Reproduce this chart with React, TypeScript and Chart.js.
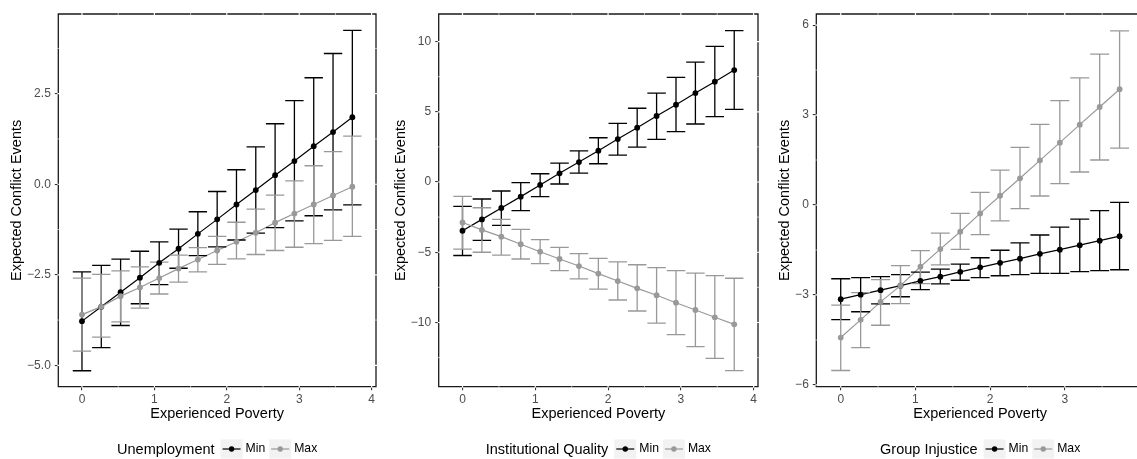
import React, { useEffect, useRef } from "react";
import { Chart, registerables } from "chart.js";

Chart.register(...registerables);

// ---------- data ----------
const xValues = [0, 0.2667, 0.5333, 0.8, 1.0667, 1.3333, 1.6, 1.8667, 2.1333, 2.4, 2.6667, 2.9333, 3.2, 3.4667, 3.7333];
const xTicks = [0, 1, 2, 3, 4];
const xTicksCropped = [0, 1, 2, 3];
const xMinor = [0.5, 1.5, 2.5, 3.5];
const seriesNames = ["Min", "Max"];

// Panel 1: Unemployment
const unempMin = [-3.78, -3.38, -2.98, -2.58, -2.17, -1.78, -1.37, -0.97, -0.56, -0.16, 0.25, 0.64, 1.05, 1.44, 1.85];
const unempMinLo = [-5.15, -4.51, -3.9, -3.3, -2.77, -2.32, -1.97, -1.73, -1.54, -1.35, -1.2, -1.01, -0.87, -0.71, -0.57];
const unempMinHi = [-2.42, -2.24, -2.07, -1.85, -1.59, -1.24, -0.76, -0.2, 0.4, 1.03, 1.67, 2.31, 2.94, 3.61, 4.25];
const unempMax = [-3.6, -3.38, -3.09, -2.85, -2.59, -2.33, -2.08, -1.83, -1.59, -1.34, -1.06, -0.81, -0.56, -0.31, -0.07];
const unempMaxLo = [-4.61, -4.22, -3.8, -3.42, -3.03, -2.7, -2.42, -2.21, -2.06, -1.94, -1.83, -1.74, -1.64, -1.55, -1.44];
const unempMaxHi = [-2.59, -2.49, -2.39, -2.28, -2.15, -1.96, -1.75, -1.44, -1.05, -0.69, -0.3, 0.09, 0.51, 0.9, 1.33];
const unempYTicks = [-5, -2.5, 0, 2.5];
const unempYMinor = [-3.75, -1.25, 1.25, 3.75];

// Panel 2: Institutional Quality
const instMin = [-3.47, -2.66, -1.85, -1.04, -0.21, 0.62, 1.42, 2.23, 3.06, 3.87, 4.7, 5.5, 6.33, 7.14, 7.97];
const instMinLo = [-5.23, -4.15, -3.08, -2.04, -1.04, -0.14, 0.64, 1.3, 1.92, 2.49, 3.04, 3.58, 4.13, 4.65, 5.17];
const instMinHi = [-1.73, -1.21, -0.64, -0.05, 0.59, 1.35, 2.21, 3.15, 4.18, 5.25, 6.33, 7.45, 8.54, 9.66, 10.77];
const instMax = [-2.88, -3.41, -3.89, -4.43, -4.96, -5.48, -5.98, -6.52, -7.05, -7.57, -8.06, -8.59, -9.11, -9.63, -10.13];
const instMaxLo = [-4.78, -5.0, -5.2, -5.48, -5.81, -6.31, -6.9, -7.62, -8.4, -9.18, -10.04, -10.87, -11.72, -12.55, -13.43];
const instMaxHi = [-1.02, -1.83, -2.66, -3.37, -4.1, -4.65, -5.1, -5.43, -5.69, -5.89, -6.1, -6.31, -6.48, -6.67, -6.85];
const instYTicks = [-10, -5, 0, 5, 10];
const instYMinor = [-12.5, -7.5, -2.5, 2.5, 7.5];

// Panel 3: Group Injustice
const injMin = [-3.14, -2.99, -2.84, -2.69, -2.53, -2.39, -2.23, -2.08, -1.93, -1.79, -1.63, -1.49, -1.34, -1.19, -1.04];
const injMinLo = [-3.82, -3.56, -3.3, -3.06, -2.82, -2.63, -2.51, -2.42, -2.36, -2.32, -2.28, -2.28, -2.22, -2.19, -2.16];
const injMinHi = [-2.46, -2.42, -2.39, -2.32, -2.24, -2.14, -1.97, -1.76, -1.51, -1.26, -1.0, -0.74, -0.47, -0.19, 0.09];
const injMax = [-4.42, -3.83, -3.23, -2.69, -2.06, -1.47, -0.89, -0.28, 0.31, 0.89, 1.49, 2.08, 2.68, 3.27, 3.86];
const injMaxLo = [-5.52, -4.76, -4.01, -3.29, -2.62, -2.0, -1.48, -0.99, -0.53, -0.12, 0.3, 0.71, 1.1, 1.5, 1.9];
const injMaxHi = [-3.34, -2.92, -2.49, -2.02, -1.52, -0.94, -0.28, 0.42, 1.16, 1.92, 2.69, 3.48, 4.24, 5.03, 5.81];
const injYTicks = [-6, -3, 0, 3, 6];
const injYMinor = [-4.5, -1.5, 1.5, 4.5];

// ---------- styling ----------
const FONT = "'Liberation Sans', Arial, Helvetica, sans-serif";
const BLACK = "#000000";
const GREY = "#999999";
const CAP = 0.127;
const TITLE_SIZE = 14.5;
const TICK_SIZE = 12;
const LABEL_SIZE = 12.2;

const fmtMinus = (s: string) => s.replace("-", "\u2212");

const panelPlugin = {
  id: "panelDeco",
  beforeDatasetsDraw(chart: any, _args: any, opts: any) {
    const { ctx, chartArea } = chart;
    const { left, right, top, bottom } = chartArea;
    const xs = chart.scales.x;
    const ys = chart.scales.y;
    ctx.save();
    ctx.strokeStyle = "#1a1a1a";
    ctx.lineWidth = 1.3;
    ctx.beginPath();
    ctx.moveTo(left, top);
    ctx.lineTo(right, top);
    ctx.lineTo(right, bottom);
    ctx.lineTo(left, bottom);
    ctx.closePath();
    ctx.stroke();
    ctx.strokeStyle = "#ffffff";
    const vline = (v: number, w: number) => {
      const p = xs.getPixelForValue(v);
      if (p < left || p > right) return;
      ctx.lineWidth = w;
      ctx.beginPath();
      ctx.moveTo(p, top - 1);
      ctx.lineTo(p, bottom + 1);
      ctx.stroke();
    };
    const hline = (v: number, w: number) => {
      const p = ys.getPixelForValue(v);
      if (p < top || p > bottom) return;
      ctx.lineWidth = w;
      ctx.beginPath();
      ctx.moveTo(left - 1, p);
      ctx.lineTo(right + 1, p);
      ctx.stroke();
    };
    (opts.xMinor || []).forEach((v: number) => vline(v, 0.6));
    (opts.yMinor || []).forEach((v: number) => hline(v, 0.6));
    (opts.xMajor || []).forEach((v: number) => vline(v, 1.2));
    (opts.yMajor || []).forEach((v: number) => hline(v, 1.2));
    ctx.restore();
  },
  afterDatasetDraw(chart: any, args: any, opts: any) {
    if (args.index !== 1) return;
    const { ctx } = chart;
    const xs = chart.scales.x;
    const ys = chart.scales.y;
    ctx.save();
    ctx.lineWidth = 1.3;
    (opts.bars || []).forEach((b: any) => {
      ctx.strokeStyle = b.color;
      b.x.forEach((xv: number, i: number) => {
        const px = xs.getPixelForValue(xv);
        const pl = xs.getPixelForValue(xv - CAP);
        const pr = xs.getPixelForValue(xv + CAP);
        const lo = ys.getPixelForValue(b.lo[i]);
        const hi = ys.getPixelForValue(b.hi[i]);
        ctx.beginPath();
        ctx.moveTo(px, lo);
        ctx.lineTo(px, hi);
        ctx.moveTo(pl, lo);
        ctx.lineTo(pr, lo);
        ctx.moveTo(pl, hi);
        ctx.lineTo(pr, hi);
        ctx.stroke();
      });
    });
    ctx.restore();
  },
  afterDraw(chart: any, _args: any, opts: any) {
    const { ctx, chartArea } = chart;
    const { left, right, top, bottom } = chartArea;
    const cx = (left + right) / 2;
    ctx.save();
    // y title
    ctx.fillStyle = "#000";
    ctx.font = `${TITLE_SIZE}px ${FONT}`;
    ctx.textAlign = "center";
    ctx.textBaseline = "middle";
    ctx.save();
    ctx.translate(opts.yTitleX, (top + bottom) / 2);
    ctx.rotate(-Math.PI / 2);
    ctx.fillText(opts.yTitle, 0, 0);
    ctx.restore();
    // x title
    ctx.fillText(opts.xTitle, cx, 414);
    // legend
    ctx.font = `${TITLE_SIZE}px ${FONT}`;
    const tw = ctx.measureText(opts.legendTitle).width;
    ctx.font = `${LABEL_SIZE}px ${FONT}`;
    const lw = opts.legendLabels.map((l: string) => ctx.measureText(l).width);
    const boxW = 22, boxH = 19;
    const total = tw + 6 + boxW + 3 + lw[0] + 4 + boxW + 3 + lw[1];
    let x = cx - total / 2;
    const yc = 449;
    ctx.textAlign = "left";
    ctx.font = `${TITLE_SIZE}px ${FONT}`;
    ctx.fillStyle = "#000";
    ctx.fillText(opts.legendTitle, x, yc + 1);
    x += tw + 6;
    const colors = [BLACK, GREY];
    for (let k = 0; k < 2; k++) {
      ctx.fillStyle = "#f2f2f2";
      ctx.fillRect(x, yc - boxH / 2, boxW, boxH);
      ctx.strokeStyle = colors[k];
      ctx.lineWidth = 1.2;
      ctx.beginPath();
      ctx.moveTo(x + 2, yc);
      ctx.lineTo(x + boxW - 2, yc);
      ctx.stroke();
      ctx.fillStyle = colors[k];
      ctx.beginPath();
      ctx.arc(x + boxW / 2, yc, 2.7, 0, Math.PI * 2);
      ctx.fill();
      x += boxW + 3;
      ctx.fillStyle = "#000";
      ctx.font = `${LABEL_SIZE}px ${FONT}`;
      ctx.fillText(opts.legendLabels[k], x, yc);
      x += lw[k] + 4;
    }
    ctx.restore();
  },
};

type PanelProps = {
  left: number;
  width: number;
  yAxisWidth: number;
  padRight: number;
  xTickVals: number[];
  yMin: number;
  yMax: number;
  yTicks: number[];
  yMinor: number[];
  yFmt: (v: number) => string;
  minY: number[];
  minLo: number[];
  minHi: number[];
  maxY: number[];
  maxLo: number[];
  maxHi: number[];
  legendTitle: string;
  yTitleX: number;
};

function Panel(p: PanelProps) {
  const ref = useRef<HTMLCanvasElement | null>(null);
  useEffect(() => {
    if (!ref.current) return;
    const pts = (ys: number[]) => xValues.map((x, i) => ({ x, y: ys[i] }));
    const chart = new Chart(ref.current, {
      type: "scatter",
      data: {
        datasets: [
          { label: seriesNames[0], data: pts(p.minY), showLine: true, borderColor: BLACK, borderWidth: 1.2, pointRadius: 0, order: 4 },
          { label: seriesNames[1], data: pts(p.maxY), showLine: true, borderColor: GREY, borderWidth: 1.2, pointRadius: 0, order: 3 },
          { label: seriesNames[0], data: pts(p.minY), showLine: false, backgroundColor: BLACK, borderColor: BLACK, borderWidth: 0, pointRadius: 2.9, order: 2 },
          { label: seriesNames[1], data: pts(p.maxY), showLine: false, backgroundColor: GREY, borderColor: GREY, borderWidth: 0, pointRadius: 2.9, order: 1 },
        ],
      },
      options: {
        animation: false,
        responsive: false,
        devicePixelRatio: 1,
        events: [],
        layout: { padding: { left: 0, right: p.padRight, top: 14, bottom: 0 } },
        plugins: {
          legend: { display: false },
          tooltip: { enabled: false },
          panelDeco: {
            xMajor: xTicks,
            xMinor: xMinor,
            yMajor: p.yTicks,
            yMinor: p.yMinor,
            bars: [
              { x: xValues, lo: p.minLo, hi: p.minHi, color: BLACK },
              { x: xValues, lo: p.maxLo, hi: p.maxHi, color: GREY },
            ],
            yTitle: "Expected Conflict Events",
            xTitle: "Experienced Poverty",
            legendTitle: p.legendTitle,
            legendLabels: seriesNames,
            yTitleX: p.yTitleX,
          },
        } as any,
        scales: {
          x: {
            type: "linear",
            min: -0.327,
            max: 4.06,
            afterBuildTicks: (s: any) => {
              s.ticks = p.xTickVals.map((v) => ({ value: v }));
            },
            afterFit: (s: any) => {
              s.height = 72.3;
            },
            grid: { drawOnChartArea: false, drawTicks: true, tickLength: 3.5, color: "#333333", lineWidth: 1.1 },
            border: { display: false },
            ticks: {
              color: "#4d4d4d",
              font: { family: FONT, size: TICK_SIZE },
              padding: 2,
              maxRotation: 0,
              autoSkip: false,
              callback: (v: any) => fmtMinus(String(v)),
            },
          },
          y: {
            type: "linear",
            min: p.yMin,
            max: p.yMax,
            afterBuildTicks: (s: any) => {
              s.ticks = p.yTicks.map((v) => ({ value: v }));
            },
            afterFit: (s: any) => {
              s.width = p.yAxisWidth;
            },
            grid: { drawOnChartArea: false, drawTicks: true, tickLength: 3.5, color: "#333333", lineWidth: 1.1 },
            border: { display: false },
            ticks: {
              color: "#4d4d4d",
              font: { family: FONT, size: TICK_SIZE },
              padding: 4,
              autoSkip: false,
              callback: (v: any) => fmtMinus(p.yFmt(Number(v))),
            },
          },
        },
      },
      plugins: [panelPlugin],
    } as any);
    return () => chart.destroy();
  }, []);
  return (
    <canvas
      ref={ref}
      width={p.width}
      height={459}
      style={{ position: "absolute", left: p.left, top: 0, width: p.width, height: 459, display: "block" }}
    />
  );
}

export default function App() {
  return (
    <div style={{ position: "fixed", left: 0, top: 0, width: 1137, height: 459, overflow: "hidden", background: "#ffffff" }}>
      <Panel
        left={0}
        width={380}
        yAxisWidth={58.3}
        padRight={2}
        xTickVals={xTicks}
        yMin={-5.59}
        yMax={4.7}
        yTicks={unempYTicks}
        yMinor={unempYMinor}
        yFmt={(v) => v.toFixed(1)}
        minY={unempMin}
        minLo={unempMinLo}
        minHi={unempMinHi}
        maxY={unempMax}
        maxLo={unempMaxLo}
        maxHi={unempMaxHi}
        legendTitle="Unemployment"
        yTitleX={17}
      />
      <Panel
        left={380}
        width={382}
        yAxisWidth={58.7}
        padRight={1}
        xTickVals={xTicks}
        yMin={-14.57}
        yMax={11.96}
        yTicks={instYTicks}
        yMinor={instYMinor}
        yFmt={(v) => String(v)}
        minY={instMin}
        minLo={instMinLo}
        minHi={instMinHi}
        maxY={instMax}
        maxLo={instMaxLo}
        maxHi={instMaxHi}
        legendTitle="Institutional Quality"
        yTitleX={21}
      />
      <Panel
        left={762}
        width={386}
        yAxisWidth={54.3}
        padRight={1.6}
        xTickVals={xTicksCropped}
        yMin={-6.06}
        yMax={6.37}
        yTicks={injYTicks}
        yMinor={injYMinor}
        yFmt={(v) => String(v)}
        minY={injMin}
        minLo={injMinLo}
        minHi={injMinHi}
        maxY={injMax}
        maxLo={injMaxLo}
        maxHi={injMaxHi}
        legendTitle="Group Injustice"
        yTitleX={23}
      />
    </div>
  );
}
